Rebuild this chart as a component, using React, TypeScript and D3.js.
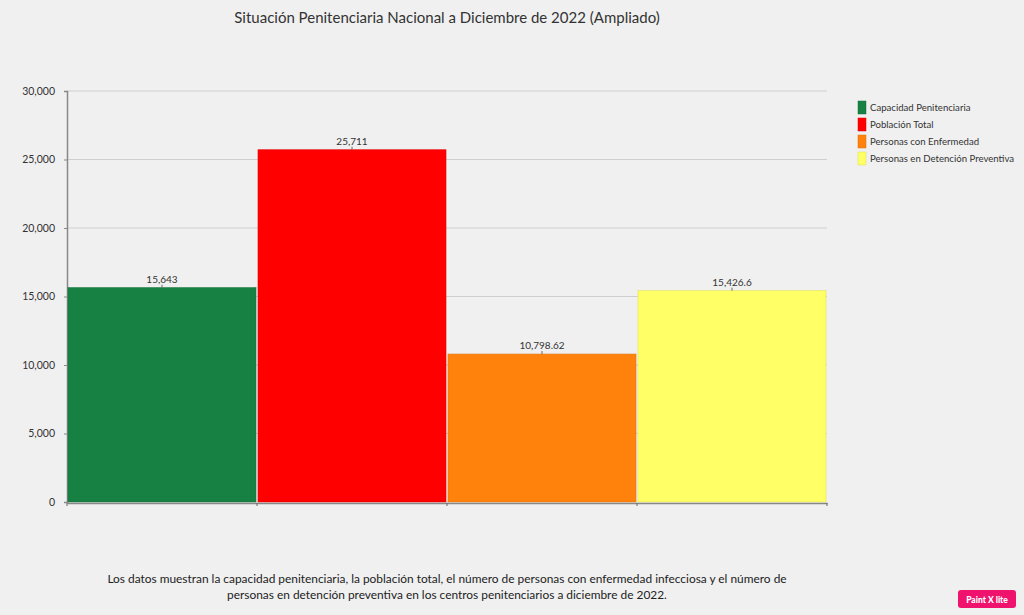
import React, { useEffect, useRef } from 'react'
import * as d3 from 'd3'

const categories = [
    'Capacidad Penitenciaria',
    'Población Total',
    'Personas con Enfermedad',
    'Personas en Detención Preventiva',
]
const values = [15643, 25711, 10798.62, 15426.6]
const colors = ['#178043', '#ff0000', '#ff820d', '#ffff66']
const yTicks = [0, 5000, 10000, 15000, 20000, 25000, 30000]
const title = 'Situación Penitenciaria Nacional a Diciembre de 2022 (Ampliado)'
const caption = [
    'Los datos muestran la capacidad penitenciaria, la población total, el número de personas con enfermedad infecciosa y el número de',
    'personas en detención preventiva en los centros penitenciarios a diciembre de 2022.',
]

const App: React.FC = () => {
    const svgRef = useRef<SVGSVGElement | null>(null)

    useEffect(() => {
        if (!svgRef.current) return
        const width = 1024
        const height = 615
        const margin = { top: 91, right: 197, bottom: 113, left: 67 }
        const font = 'Lato, "Open Sans", sans-serif'

        const svg = d3.select(svgRef.current)
        svg.selectAll('*').remove()

        svg.append('rect')
            .attr('width', width)
            .attr('height', height)
            .attr('fill', '#f0f0f0')

        const x = d3
            .scaleBand<string>()
            .domain(categories)
            .range([margin.left, width - margin.right])
            .padding(0)

        const y = d3
            .scaleLinear()
            .domain([0, 30000])
            .range([height - margin.bottom, margin.top])

        // 그리드
        svg.append('g')
            .selectAll('line')
            .data(yTicks.slice(1))
            .join('line')
            .attr('x1', margin.left)
            .attr('x2', width - margin.right)
            .attr('y1', (d) => y(d))
            .attr('y2', (d) => y(d))
            .attr('stroke', '#cfcfcf')
            .attr('stroke-width', 1)

        // y축
        const yAxis = svg
            .append('g')
            .attr('transform', `translate(${margin.left},0)`)
            .call(
                d3
                    .axisLeft(y)
                    .tickValues(yTicks)
                    .tickFormat(d3.format(',') as any)
                    .tickSize(3)
                    .tickPadding(9)
            )
        yAxis.select('.domain').attr('stroke', '#888').attr('stroke-width', 1.5)
        yAxis.selectAll('line').attr('stroke', '#888')
        yAxis
            .selectAll('text')
            .attr('fill', '#333')
            .style('font-family', font)
            .style('font-size', '10.5px')

        // 막대
        svg.append('g')
            .selectAll('rect')
            .data(values)
            .join('rect')
            .attr('x', (_, i) => x(categories[i])! + 1)
            .attr('y', (d) => y(d))
            .attr('width', x.bandwidth() - 2)
            .attr('height', (d) => y(0) - y(d))
            .attr('fill', (_, i) => colors[i])
            .attr('stroke', (_, i) => d3.color(colors[i])!.darker(0.3).toString())
            .attr('stroke-width', 0.6)

        // 값 라벨
        const labels = svg.append('g')
        values.forEach((v, i) => {
            const cx = x(categories[i])! + x.bandwidth() / 2
            labels
                .append('text')
                .attr('x', cx)
                .attr('y', y(v) - 5)
                .attr('text-anchor', 'middle')
                .attr('fill', '#333')
                .style('font-family', font)
                .style('font-size', '10px')
                .text(d3.format(',')(v))
            labels
                .append('line')
                .attr('x1', cx)
                .attr('x2', cx)
                .attr('y1', y(v) - 3)
                .attr('y2', y(v))
                .attr('stroke', '#666')
        })

        // x축
        const xAxis = svg
            .append('g')
            .attr('transform', `translate(0,${y(0) + 1})`)
            .call(d3.axisBottom(x).tickSize(0).tickFormat(() => ''))
        xAxis.select('.domain').attr('stroke', '#888').attr('stroke-width', 1.5)
        svg.append('g')
            .selectAll('line')
            .data([...categories.map((c) => x(c)!), width - margin.right])
            .join('line')
            .attr('x1', (d) => d)
            .attr('x2', (d) => d)
            .attr('y1', y(0) + 1)
            .attr('y2', y(0) + 4)
            .attr('stroke', '#666')

        // 범례
        const legend = svg.append('g').attr('transform', 'translate(858,101)')
        categories.forEach((c, i) => {
            const g = legend.append('g').attr('transform', `translate(0,${i * 17})`)
            g.append('rect')
                .attr('width', 8)
                .attr('height', 13)
                .attr('fill', colors[i])
                .attr('stroke', d3.color(colors[i])!.darker(0.4).toString())
                .attr('stroke-width', 0.5)
            g.append('text')
                .attr('x', 12)
                .attr('y', 10)
                .attr('fill', '#333')
                .style('font-family', font)
                .style('font-size', '9.6px')
                .text(c)
        })

        // 제목
        svg.append('text')
            .attr('x', 447)
            .attr('y', 23)
            .attr('text-anchor', 'middle')
            .attr('fill', '#333')
            .style('font-family', font)
            .style('font-size', '15px')
            .text(title)

        // 설명
        caption.forEach((line, i) => {
            svg.append('text')
                .attr('x', 447)
                .attr('y', 583 + i * 16)
                .attr('text-anchor', 'middle')
                .attr('fill', '#222')
                .style('font-family', font)
                .style('font-size', '11.9px')
                .text(line)
        })

        // 워터마크
        svg.append('rect')
            .attr('x', 958)
            .attr('y', 590)
            .attr('width', 58)
            .attr('height', 18)
            .attr('rx', 3)
            .attr('fill', '#f0136e')
        svg.append('text')
            .attr('x', 987)
            .attr('y', 603)
            .attr('text-anchor', 'middle')
            .attr('fill', '#fff')
            .style('font-family', font)
            .style('font-size', '8.5px')
            .style('font-weight', 900)
            .text('Paint X lite')
    }, [])

    return (
        <div style={{ position: 'absolute', top: 0, left: 0 }}>
            <svg ref={svgRef} width={1024} height={615} style={{ display: 'block' }}></svg>
        </div>
    )
}

export default App
